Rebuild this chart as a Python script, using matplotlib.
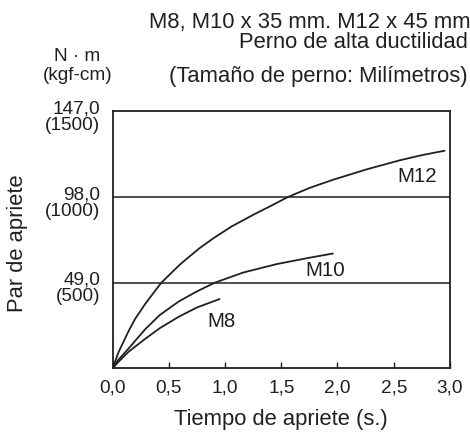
import matplotlib.pyplot as plt
from matplotlib.transforms import ScaledTranslation

plt.rcParams['font.family'] = ['Liberation Sans', 'DejaVu Sans']

ink = '#231f20'

# Datos (tiempo en s, par en N·m)
t_m12 = [0, 0.055, 0.144, 0.2, 0.292, 0.434, 0.6, 0.77, 0.9, 1.062, 1.25, 1.4, 1.563, 1.756, 1.963, 2.26, 2.556, 2.75, 2.95]
par_m12 = [0, 9.5, 21.5, 28.2, 37, 49, 59.4, 68.5, 74.5, 81.2, 87.7, 92.6, 98, 103.2, 107.8, 113.7, 118.9, 121.8, 124.3]
t_m10 = [0, 0.05, 0.144, 0.292, 0.42, 0.59, 0.75, 0.91, 1.163, 1.46, 1.756, 1.957]
par_m10 = [0, 4.8, 11.5, 22.5, 30.5, 38.3, 44, 49, 54.8, 59.6, 63.3, 65.6]
t_m8 = [0, 0.05, 0.144, 0.292, 0.42, 0.588, 0.75, 0.95]
par_m8 = [0, 3.6, 9.6, 17, 23, 29.5, 34.8, 39.6]

x_ticks = [0.0, 0.5, 1.0, 1.5, 2.0, 2.5, 3.0]
x_labels = ['0,0', '0,5', '1,0', '1,5', '2,0', '2,5', '3,0']
y_ticks = [49, 98, 147]
y_labels = ['49,0\n(500)', '98,0\n(1000)', '147,0\n(1500)']

fig = plt.figure(figsize=(4.7, 4.34), dpi=100)
ax = fig.add_axes([0.2394, 0.151, 0.9574 - 0.2394, 0.7442 - 0.151])

for t, p in [(t_m12, par_m12), (t_m10, par_m10), (t_m8, par_m8)]:
    ax.plot(t, p, color=ink, lw=1.3, solid_joinstyle='round')

for y in [49, 98]:
    ax.axhline(y, color=ink, lw=1.1)

ax.text(2.71, 109.4, 'M12', fontsize=14.8, color=ink, ha='center', va='center')
ax.text(1.89, 55.7, 'M10', fontsize=14.8, color=ink, ha='center', va='center')
ax.text(0.97, 26.9, 'M8', fontsize=14.8, color=ink, ha='center', va='center')

ax.set_xlim(0, 3)
ax.set_ylim(0, 147)
ax.set_xticks(x_ticks)
ax.set_xticklabels(x_labels)
ax.set_yticks(y_ticks)
ax.set_yticklabels(y_labels, linespacing=0.95)
ax.tick_params(axis='x', direction='in', length=4, width=1, pad=8, labelsize=13.7, colors=ink)
ax.tick_params(axis='y', length=0, pad=9, labelsize=13.7, colors=ink)
for lab in ax.get_yticklabels():
    lab.set_va('center')
    lab.set_transform(lab.get_transform() + ScaledTranslation(0, -6 / 100, fig.dpi_scale_trans))
for s in ax.spines.values():
    s.set_color(ink)
    s.set_linewidth(1.3)

fig.text(281 / 470, 1 - 425 / 434, 'Tiempo de apriete (s.)', ha='center', va='baseline', fontsize=15.8, color=ink)
fig.text(17.5 / 470, 1 - 243 / 434, 'Par de apriete', rotation=90, ha='center', va='center', fontsize=15.8, color=ink)

fig.text(471 / 470, 1 - 28 / 434, 'M8, M10 x 35 mm. M12 x 45 mm', ha='right', va='baseline', fontsize=15.8, color=ink)
fig.text(468 / 470, 1 - 48 / 434, 'Perno de alta ductilidad', ha='right', va='baseline', fontsize=15.8, color=ink)
fig.text(468 / 470, 1 - 82 / 434, '(Tamaño de perno: Milímetros)', ha='right', va='baseline', fontsize=15.8, color=ink)
fig.text(77.5 / 470, 1 - 61 / 434, 'N · m', ha='center', va='baseline', fontsize=13.7, color=ink)
fig.text(77.5 / 470, 1 - 80 / 434, '(kgf-cm)', ha='center', va='baseline', fontsize=13.7, color=ink)

fig.savefig('out.png', dpi=100)
